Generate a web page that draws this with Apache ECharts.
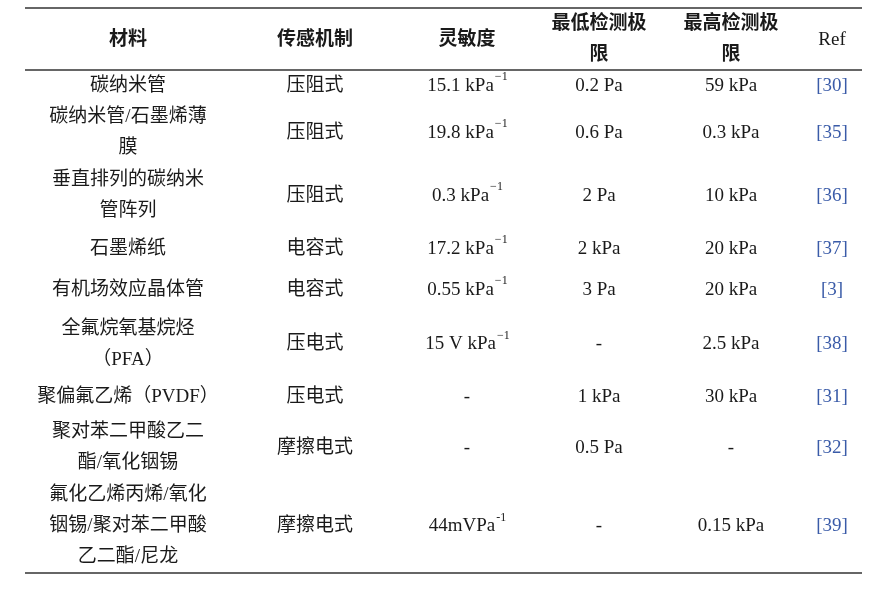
<!DOCTYPE html>
<html>
<head>
<meta charset="UTF-8">
<script src="https://cdn.jsdelivr.net/npm/echarts@6/dist/echarts.min.js"></script>
<style>html,body{margin:0;background:#fff}#box{width:890px;height:591px}</style>
</head>
<body>
<div id="box"></div>
<script>
// table content
var headers = ['材料', '传感机制', '灵敏度', '最低检测极\n限', '最高检测极\n限', 'Ref'];
var materials = ['碳纳米管', '碳纳米管/石墨烯薄\n膜', '垂直排列的碳纳米\n管阵列', '石墨烯纸', '有机场效应晶体管',
  '全氟烷氧基烷烃\n（PFA）', '聚偏氟乙烯（PVDF）', '聚对苯二甲酸乙二\n酯/氧化铟锡', '氟化乙烯丙烯/氧化\n铟锡/聚对苯二甲酸\n乙二酯/尼龙'];
var mechanisms = ['压阻式', '压阻式', '压阻式', '电容式', '电容式', '压电式', '压电式', '摩擦电式', '摩擦电式'];
// sensitivity: [value, unit, superscript]
var sensitivity = [['15.1', ' kPa', '−1'], ['19.8', ' kPa', '−1'], ['0.3', ' kPa', '−1'], ['17.2', ' kPa', '−1'],
  ['0.55', ' kPa', '−1'], ['15', ' V kPa', '−1'], ['-', '', ''], ['-', '', ''], ['44', 'mVPa', '-1']];
var minLimit = ['0.2 Pa', '0.6 Pa', '2 Pa', '2 kPa', '3 Pa', '-', '1 kPa', '0.5 Pa', '-'];
var maxLimit = ['59 kPa', '0.3 kPa', '10 kPa', '20 kPa', '20 kPa', '2.5 kPa', '30 kPa', '-', '0.15 kPa'];
var refs = ['[30]', '[35]', '[36]', '[37]', '[3]', '[38]', '[31]', '[32]', '[39]'];

// layout
var colX = [128, 315, 467, 599, 731, 832];
var rowHeights = [32, 61.5, 65, 41, 41, 68, 37, 64.5, 93];
var tableLeft = 25, tableRight = 862, topRule = 8, headRule = 70;
var font = '"Liberation Serif", "Noto Sans CJK SC", serif';
var ink = '#1a1a1a';
var fs = 19;

var ctx = document.createElement('canvas').getContext('2d');
function textW(t, size) { ctx.font = size + 'px ' + font; return ctx.measureText(t).width; }

var els = [];
function rule(y, w) {
  els.push({type: 'line', shape: {x1: tableLeft, y1: y, x2: tableRight, y2: y}, style: {stroke: '#333', lineWidth: w}});
}
function cell(x, y, text, extra) {
  var st = {text: text, x: x, y: y, align: 'center', verticalAlign: 'middle', fontFamily: font,
    fontSize: fs, lineHeight: 31, fill: ink};
  for (var k in extra) st[k] = extra[k];
  els.push({type: 'text', style: st});
}

rule(topRule, 1.5);
rule(headRule, 1.5);
headers.forEach(function (h, i) {
  cell(colX[i], (topRule + headRule) / 2 + 1, h, {fontWeight: i === 5 ? 'normal' : 'bold'});
});

var y = headRule;
rowHeights.forEach(function (hgt, r) {
  var cy = y + hgt / 2;
  cell(colX[0], cy, materials[r]);
  cell(colX[1], cy, mechanisms[r]);
  var s = sensitivity[r];
  if (s[2]) {
    var main = s[0] + s[1];
    var wm = textW(main, fs), ws = textW(s[2], 12);
    var left = colX[2] - (wm + ws) / 2;
    cell(left, cy, main, {align: 'left'});
    cell(left + wm + 1, cy - 9, s[2], {align: 'left', fontSize: 12, lineHeight: 14});
  } else {
    cell(colX[2], cy, s[0]);
  }
  cell(colX[3], cy, minLimit[r]);
  cell(colX[4], cy, maxLimit[r]);
  cell(colX[5], cy, refs[r], {fill: '#3a5ba8'});
  y += hgt;
});
rule(y, 1.5);

var myChart = echarts.init(document.getElementById('box'));
myChart.setOption({backgroundColor: '#fff', graphic: {elements: els}});
</script>
</body>
</html>
